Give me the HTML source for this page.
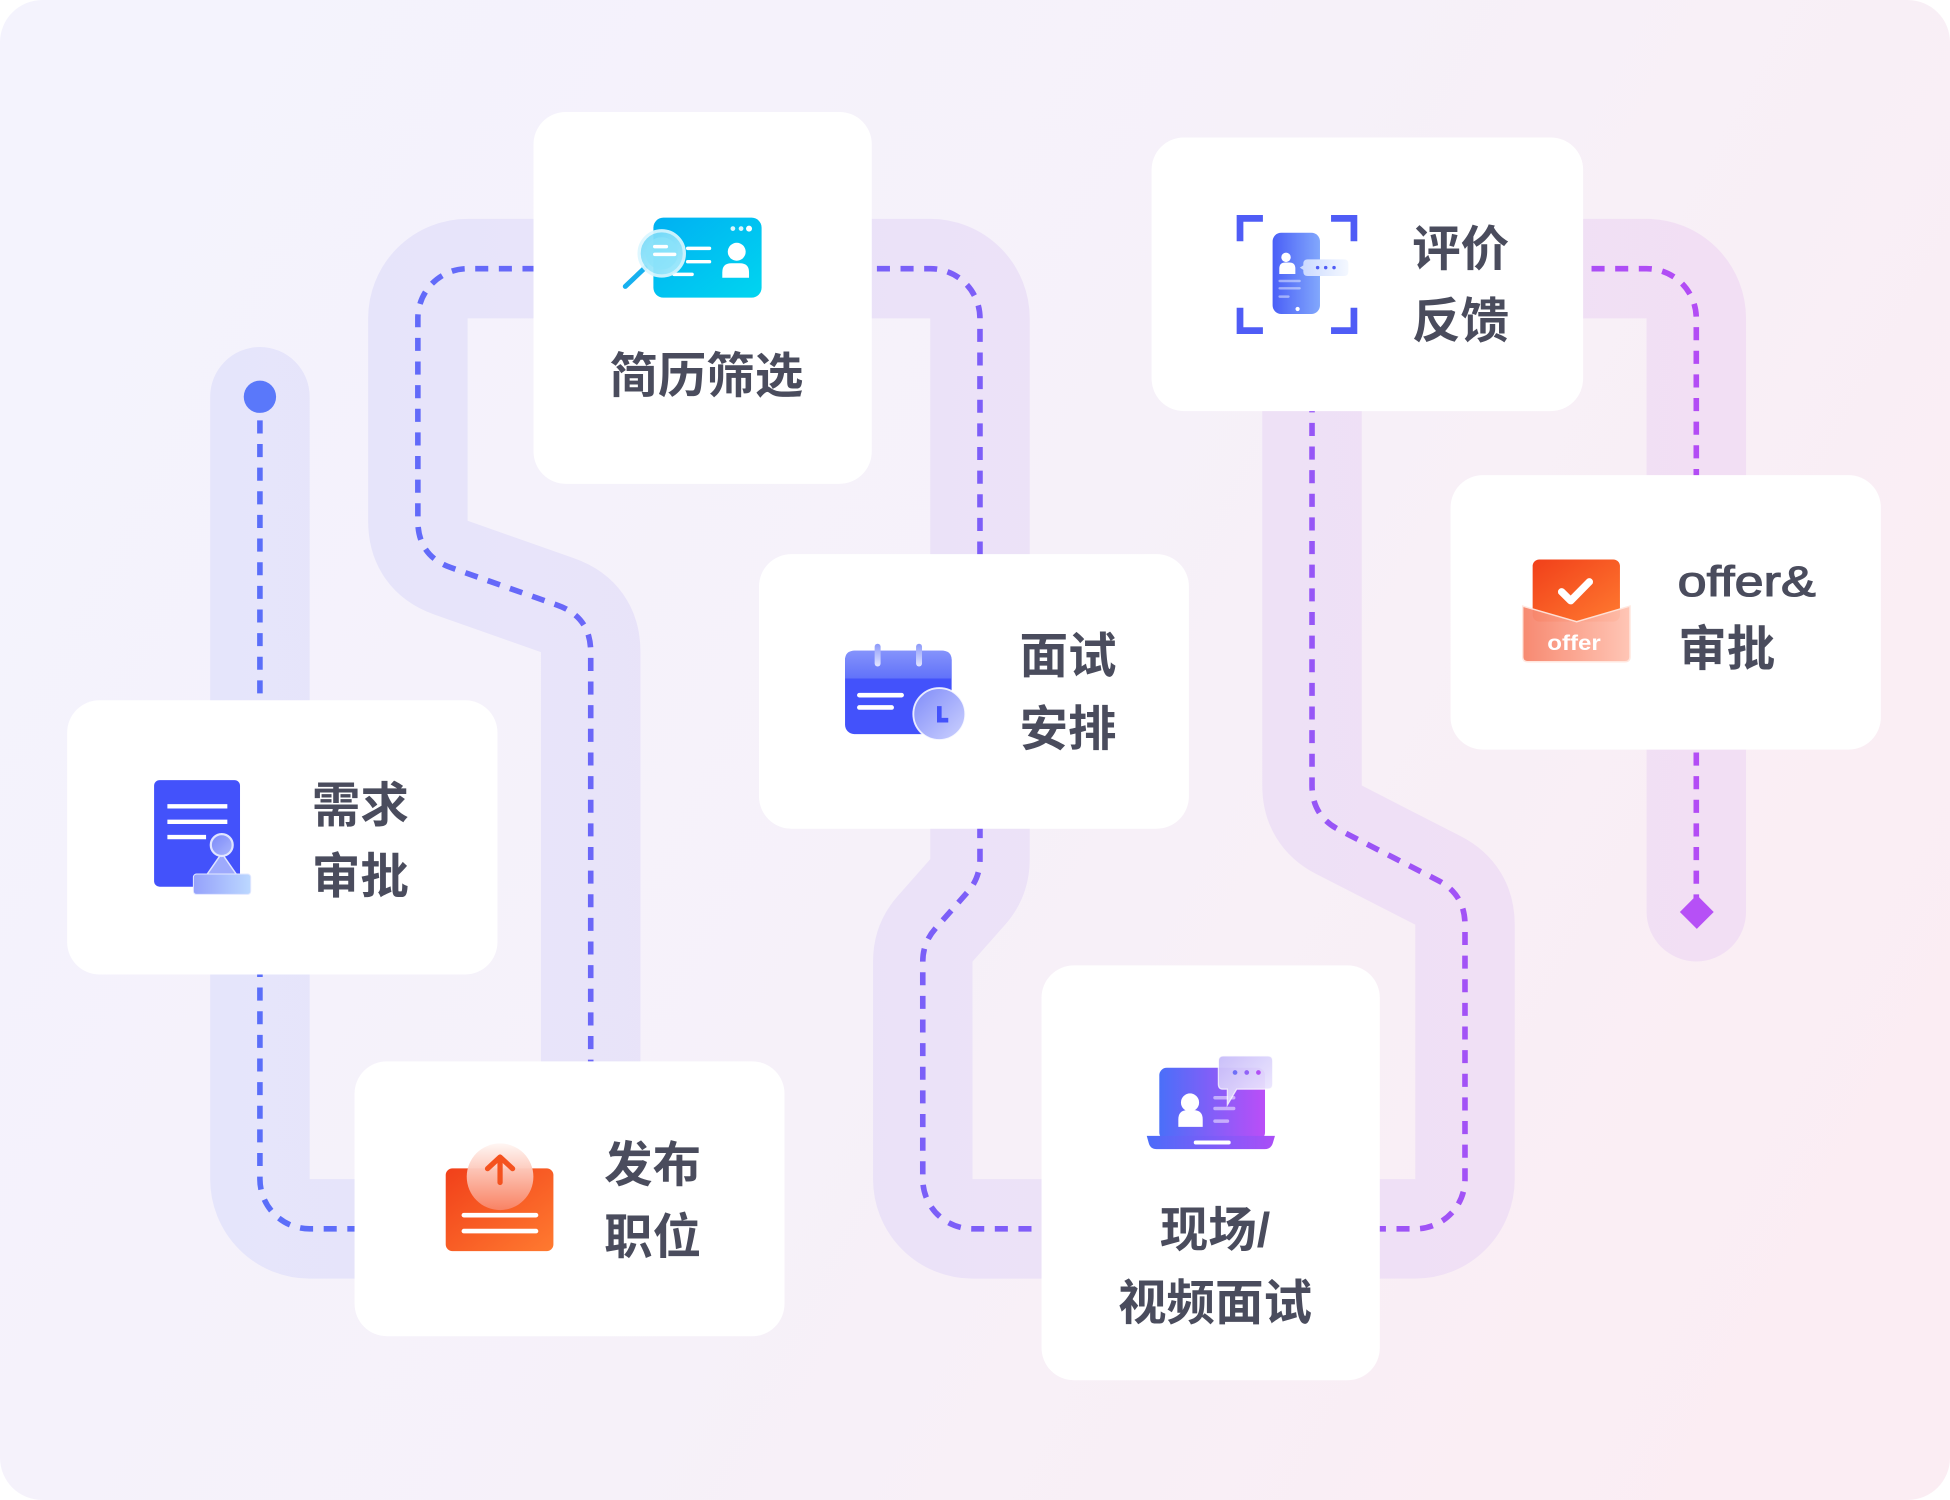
<!DOCTYPE html>
<html><head><meta charset="utf-8">
<style>
html,body{margin:0;padding:0;background:#fff;}
svg{display:block;}
.t{font-family:"Liberation Sans","Noto Sans CJK SC",sans-serif;font-size:39px;font-weight:700;fill:#4a4c5d;}
.o{font-family:"Liberation Sans","Noto Sans CJK SC",sans-serif;font-size:34px;font-weight:400;fill:#4a4c5d;stroke:#4a4c5d;stroke-width:0.9px;}
</style></head><body>
<svg width="1950" height="1500" viewBox="0 0 1568 1206" preserveAspectRatio="none" xmlns="http://www.w3.org/2000/svg">
<defs>
<linearGradient id="bg" x1="0" y1="0.3" x2="1" y2="0.7">
<stop offset="0" stop-color="#f4f3fd"/><stop offset="0.5" stop-color="#f6f1f9"/><stop offset="1" stop-color="#fbedf3"/>
</linearGradient>
<linearGradient id="band" gradientUnits="userSpaceOnUse" x1="169" y1="0" x2="1404" y2="0">
<stop offset="0" stop-color="#e5e5fb"/><stop offset="1" stop-color="#f2dff4"/>
</linearGradient>
<linearGradient id="dash" gradientUnits="userSpaceOnUse" x1="209" y1="0" x2="1364" y2="0">
<stop offset="0" stop-color="#5a6ef9"/><stop offset="0.5" stop-color="#7d5ef8"/><stop offset="1" stop-color="#b34cf5"/>
</linearGradient>
<linearGradient id="g1" x1="0" y1="0" x2="1" y2="1"><stop offset="0" stop-color="#00b0f2"/><stop offset="1" stop-color="#00d5f0"/></linearGradient>
<linearGradient id="gMag" x1="0" y1="0" x2="1" y2="1"><stop offset="0" stop-color="#6fd8f8"/><stop offset="1" stop-color="#b5effd"/></linearGradient>
<linearGradient id="gPhone" x1="0" y1="0" x2="1" y2="0"><stop offset="0" stop-color="#4a5ff7"/><stop offset="1" stop-color="#82a8fc"/></linearGradient>
<linearGradient id="gBub" x1="0" y1="0" x2="1" y2="0"><stop offset="0" stop-color="#c9d8ff"/><stop offset="1" stop-color="#f4f8ff"/></linearGradient>
<linearGradient id="gStampC" x1="0" y1="0" x2="1" y2="1"><stop offset="0" stop-color="#7a88f9"/><stop offset="1" stop-color="#aab6fd"/></linearGradient>
<linearGradient id="gStampB" x1="0" y1="0" x2="1" y2="0"><stop offset="0" stop-color="#95a1fb"/><stop offset="1" stop-color="#bcd8ff"/></linearGradient>
<linearGradient id="gCalTop" x1="0" y1="0" x2="0" y2="1"><stop offset="0" stop-color="#8593fb"/><stop offset="1" stop-color="#6172fa"/></linearGradient>
<linearGradient id="gRing" gradientUnits="userSpaceOnUse" x1="0" y1="518" x2="0" y2="535"><stop offset="0" stop-color="#8e9bfa"/><stop offset="1" stop-color="#dfe3ff"/></linearGradient>
<linearGradient id="gClock" x1="0" y1="0" x2="1" y2="1"><stop offset="0" stop-color="#7f8bf9"/><stop offset="1" stop-color="#cdd2fe"/></linearGradient>
<linearGradient id="gOr" x1="0" y1="0" x2="1" y2="1"><stop offset="0" stop-color="#f1401a"/><stop offset="1" stop-color="#ff7a30"/></linearGradient>
<linearGradient id="gEnv" x1="0" y1="0" x2="1" y2="0"><stop offset="0" stop-color="#f7846a"/><stop offset="1" stop-color="#ffc3b2"/></linearGradient>
<linearGradient id="gUp" x1="0" y1="0" x2="0" y2="1"><stop offset="0" stop-color="#fff6f3"/><stop offset="1" stop-color="#f98466"/></linearGradient>
<linearGradient id="gLap" x1="0" y1="0" x2="1" y2="0"><stop offset="0" stop-color="#4a6ff9"/><stop offset="1" stop-color="#bb4ef7"/></linearGradient>
<linearGradient id="gLapB" x1="0" y1="0" x2="1" y2="0"><stop offset="0" stop-color="#4b6cf9"/><stop offset="1" stop-color="#ab4ef7"/></linearGradient>
<linearGradient id="gLapBub" x1="0" y1="0" x2="1" y2="1"><stop offset="0" stop-color="#c7bbf9"/><stop offset="1" stop-color="#f3efff"/></linearGradient>
</defs>

<!-- background -->
<rect x="0" y="0" width="1568" height="1206" rx="34" ry="34" fill="url(#bg)"/>

<!-- track band -->
<path d="M209,319 V948 A40,40 0 0 0 249,988 H435 A40,40 0 0 0 475,948 V524.3 Q475,496 448.3,486.6 L362.7,456.4 Q336,447 336,418.7 V256 A40,40 0 0 1 376,216 H748 A40,40 0 0 1 788,256 V690.8 Q788,706 777.9,717.4 L752.1,746.6 Q742,758 742,773.2 V948 A40,40 0 0 0 782,988 H1138 A40,40 0 0 0 1178,948 V743.5 Q1178,719 1156.2,707.8 L1076.8,667.2 Q1055,656 1055,631.5 V256 A40,40 0 0 1 1095,216 H1324 A40,40 0 0 1 1364,256 V733" fill="none" stroke="url(#band)" stroke-width="80" stroke-linecap="round" stroke-linejoin="round"/>
<!-- dashed line -->
<path d="M209,319 V948 A40,40 0 0 0 249,988 H435 A40,40 0 0 0 475,948 V524.3 Q475,496 448.3,486.6 L362.7,456.4 Q336,447 336,418.7 V256 A40,40 0 0 1 376,216 H748 A40,40 0 0 1 788,256 V690.8 Q788,706 777.9,717.4 L752.1,746.6 Q742,758 742,773.2 V948 A40,40 0 0 0 782,988 H1138 A40,40 0 0 0 1178,948 V743.5 Q1178,719 1156.2,707.8 L1076.8,667.2 Q1055,656 1055,631.5 V256 A40,40 0 0 1 1095,216 H1324 A40,40 0 0 1 1364,256 V733" fill="none" stroke="url(#dash)" stroke-width="4.5" stroke-dasharray="10.5 8.5"/>

<circle cx="209" cy="319" r="13" fill="#5a78fa"/>
<polygon points="1364.4,719.6 1378,733.2 1364.4,746.8 1350.8,733.2" fill="#b650f6"/>

<!-- cards -->
<g fill="#ffffff">
<rect x="429" y="90" width="272" height="299" rx="26"/>
<rect x="926" y="110.5" width="347" height="220" rx="26"/>
<rect x="54" y="563" width="346" height="220.5" rx="26"/>
<rect x="610.3" y="445.5" width="345.7" height="220.8" rx="26"/>
<rect x="1166.4" y="382" width="346" height="220.7" rx="26"/>
<rect x="285.1" y="853.3" width="345.7" height="221" rx="26"/>
<rect x="837.5" y="776.2" width="272" height="333.5" rx="26"/>
</g>

<!-- Icon 1: resume screening -->
<rect x="525.4" y="175" width="87" height="64.3" rx="8" fill="url(#g1)"/>
<g fill="#fff">
<circle cx="589.3" cy="183.8" r="1.9" opacity=".85"/>
<circle cx="595.9" cy="183.8" r="1.9" opacity=".85"/>
<circle cx="602.3" cy="183.8" r="2.4"/>
<circle cx="592.4" cy="202.4" r="7.2"/>
<path d="M580.8,223.3 V219 Q580.8,211.7 588,211.7 H595 Q602.3,211.7 602.3,219 V223.3 Z"/>
</g>
<g stroke="#fff" stroke-width="2.8" stroke-linecap="round">
<line x1="553" y1="199.7" x2="570.5" y2="199.7"/>
<line x1="553" y1="210.4" x2="570.5" y2="210.4"/>
<line x1="542" y1="220.6" x2="556.5" y2="220.6"/>
</g>
<line x1="502.8" y1="230.3" x2="518.7" y2="215.2" stroke="#16b0ef" stroke-width="4" stroke-linecap="round"/>
<circle cx="532.1" cy="203.7" r="18.2" fill="url(#gMag)" opacity=".92" stroke="#dcf7ff" stroke-width="2.6"/>
<circle cx="532.1" cy="203.7" r="13" fill="#8ae2fa" opacity=".7"/>
<g stroke="#fff" stroke-width="2.8" stroke-linecap="round">
<line x1="526.5" y1="198.3" x2="535.8" y2="198.3"/>
<line x1="526.5" y1="204.5" x2="542.5" y2="204.5"/>
</g>

<!-- Icon 2: evaluation feedback -->
<g fill="none" stroke="#4f5cf6" stroke-width="5.4">
<polyline points="997.1,194 997.1,175.6 1015.5,175.6"/>
<polyline points="1070.3,175.6 1088.7,175.6 1088.7,194"/>
<polyline points="997.1,247.4 997.1,265.8 1015.5,265.8"/>
<polyline points="1070.3,265.8 1088.7,265.8 1088.7,247.4"/>
</g>
<rect x="1023.3" y="187.1" width="38.1" height="65.4" rx="7" fill="url(#gPhone)"/>
<g fill="#fff">
<circle cx="1034.1" cy="206.9" r="3.8"/>
<path d="M1028.7,220.3 V216 Q1028.7,211 1033.5,211 H1036.8 Q1041.6,211 1041.6,216 V220.3 Z"/>
<circle cx="1043.4" cy="248.4" r="1.7"/>
</g>
<g stroke="#fff" stroke-opacity=".45" stroke-width="2" stroke-linecap="round">
<line x1="1029" y1="225.9" x2="1045" y2="225.9"/>
<line x1="1029" y1="231.8" x2="1045" y2="231.8"/>
<line x1="1029" y1="238.5" x2="1036" y2="238.5"/>
</g>
<path d="M1051.5,208.5 H1080.7 Q1084.2,208.5 1084.2,212 V218.4 Q1084.2,221.9 1080.7,221.9 H1051.5 Q1048,221.9 1048,218.4 V217 L1045.2,215.2 L1048,213.4 V212 Q1048,208.5 1051.5,208.5 Z" fill="url(#gBub)"/>
<g fill="#4f5cf6">
<circle cx="1059.5" cy="215.2" r="1.4"/>
<circle cx="1066" cy="215.2" r="1.4"/>
<circle cx="1072.7" cy="215.2" r="1.4"/>
</g>

<!-- Icon 3: requirement approval -->
<rect x="123.9" y="627.2" width="69.1" height="85.7" rx="4.5" fill="#4352fb"/>
<g stroke="#fff" stroke-width="3.5">
<line x1="134.6" y1="648.3" x2="182.8" y2="648.3"/>
<line x1="134.6" y1="660.7" x2="182.8" y2="660.7"/>
<line x1="134.6" y1="673" x2="165.7" y2="673"/>
</g>
<path d="M178.3,686 L166.5,703 H190.1 Z" fill="#9eaafc" stroke="#dfe4ff" stroke-width="1.2"/>
<rect x="155.5" y="702.7" width="46.1" height="16.4" rx="2.5" fill="url(#gStampB)" stroke="#e2e8ff" stroke-width="0.8"/>
<circle cx="178.3" cy="679.4" r="8.8" fill="url(#gStampC)" stroke="#e0e5ff" stroke-width="1.8"/>

<!-- Icon 4: interview scheduling -->
<rect x="679.5" y="523.2" width="85.7" height="67" rx="7.5" fill="#4352fb"/>
<path d="M679.5,545.5 V530.7 Q679.5,523.2 687,523.2 H757.7 Q765.2,523.2 765.2,530.7 V545.5 Z" fill="url(#gCalTop)"/>
<g stroke="url(#gRing)" stroke-width="4.8" stroke-linecap="round">
<line x1="705.7" y1="520" x2="705.7" y2="533.5"/>
<line x1="739" y1="520" x2="739" y2="533.5"/>
</g>
<g stroke="#fff" stroke-width="3.7" stroke-linecap="round">
<line x1="691" y1="558.9" x2="725" y2="558.9"/>
<line x1="691" y1="568.8" x2="717" y2="568.8"/>
</g>
<circle cx="755.3" cy="574.1" r="20.9" fill="url(#gClock)" stroke="#ffffff" stroke-opacity=".85" stroke-width="1.5"/>
<polyline points="755.3,567.7 755.3,579 762.5,579" fill="none" stroke="#4352fb" stroke-width="3.7"/>

<!-- Icon 5: offer -->
<rect x="1232.4" y="449.8" width="70.2" height="50" rx="5.4" fill="url(#gOr)"/>
<polyline points="1255.7,475.8 1263,483 1278,467.8" fill="none" stroke="#fff" stroke-width="5.9" stroke-linecap="round" stroke-linejoin="round"/>
<path d="M1224.4,487.3 L1267.8,499.9 L1310.7,487.3 V528 Q1310.7,532 1306.7,532 H1228.4 Q1224.4,532 1224.4,528 Z" fill="url(#gEnv)" opacity=".95" stroke="#ffe6de" stroke-width="1.2"/>
<text x="1265.7" y="522.7" text-anchor="middle" textLength="43" lengthAdjust="spacingAndGlyphs" style="font-family:'Liberation Sans',sans-serif;font-size:17px;font-weight:700;fill:#fff;">offer</text>

<!-- Icon 6: publish job -->
<rect x="358.4" y="939.4" width="86.6" height="66.5" rx="5.4" fill="url(#gOr)"/>
<g stroke="#fff" stroke-width="3.7" stroke-linecap="round">
<line x1="373" y1="977" x2="431" y2="977"/>
<line x1="373" y1="989.8" x2="431" y2="989.8"/>
</g>
<circle cx="402.1" cy="946.1" r="26.8" fill="url(#gUp)" opacity=".96"/>
<g fill="none" stroke="#f4521f" stroke-width="4.2" stroke-linecap="round" stroke-linejoin="round">
<line x1="402.1" y1="950.7" x2="402.1" y2="931.5"/>
<polyline points="392,939.6 402.1,930.3 412.2,939.6"/>
</g>

<!-- Icon 7: onsite / video interview -->
<rect x="932.2" y="858.5" width="85" height="58" rx="6" fill="url(#gLap)"/>
<path d="M922.1,913.2 H1025.2 L1023.5,919 Q1022,923.9 1017,923.9 H930 Q925,923.9 923.7,919 Z" fill="url(#gLapB)"/>
<line x1="961.5" y1="918.6" x2="988" y2="918.6" stroke="#fff" stroke-width="3.2" stroke-linecap="round"/>
<g fill="#fff">
<circle cx="956.9" cy="886.4" r="7.3"/>
<path d="M947.5,906 V900 Q947.5,892.5 955,892.5 H959.6 Q967.1,892.5 967.1,900 V906 Z"/>
</g>
<g stroke="#fff" stroke-opacity=".5" stroke-width="2.8" stroke-linecap="round">
<line x1="977" y1="882.6" x2="992" y2="882.6"/>
<line x1="977" y1="891.2" x2="992" y2="891.2"/>
<line x1="977" y1="901.4" x2="987" y2="901.4"/>
</g>
<path d="M983.7,848.9 H1019.4 Q1023.4,848.9 1023.4,852.9 V871.7 Q1023.4,875.7 1019.4,875.7 H994.4 L986.9,888.5 V875.7 H983.7 Q979.7,875.7 979.7,871.7 V852.9 Q979.7,848.9 983.7,848.9 Z" fill="url(#gLapBub)" opacity=".95" stroke="#ffffff" stroke-opacity=".8" stroke-width="1"/>
<circle cx="993.1" cy="862.3" r="1.9" fill="#6f6ff7"/>
<circle cx="1002.5" cy="862.3" r="1.9" fill="#9163f7"/>
<circle cx="1011.9" cy="862.3" r="1.9" fill="#b250f5"/>

<!-- labels -->
<text class="t" x="568" y="315.7" text-anchor="middle">简历筛选</text>
<text class="t" x="1135.5" y="213.6">评价</text>
<text class="t" x="1135.5" y="271.3">反馈</text>
<text class="t" x="250.8" y="660.7">需求</text>
<text class="t" x="250.8" y="718">审批</text>
<text class="t" x="819.8" y="540.5">面试</text>
<text class="t" x="819.8" y="599.3">安排</text>
<text class="o" x="1349" y="479" textLength="111" lengthAdjust="spacingAndGlyphs">offer&amp;</text>
<text class="t" x="1349.5" y="535">审批</text>
<text class="t" x="485.8" y="950">发布</text>
<text class="t" x="485.8" y="1008">职位</text>
<text class="t" x="977" y="1002.3" text-anchor="middle">现场/</text>
<text class="t" x="977" y="1060.7" text-anchor="middle">视频面试</text>
</svg>
</body></html>
